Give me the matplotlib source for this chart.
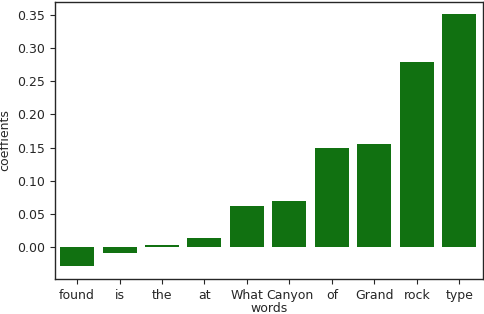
import matplotlib
matplotlib.use('Agg')
import matplotlib.pyplot as plt

words = ['found', 'is', 'the', 'at', 'What', 'Canyon', 'of', 'Grand', 'rock', 'type']
coefs = [-0.0287, -0.009, 0.003, 0.0136, 0.062, 0.069, 0.149, 0.155, 0.279, 0.351]
yticks = [0.00, 0.05, 0.10, 0.15, 0.20, 0.25, 0.30, 0.35]

text_col = '#262626'
plt.rcParams['font.family'] = ['DejaVu Sans']

fig = plt.figure(figsize=(4.84, 3.14), dpi=100)
ax = fig.add_axes([0.1136, 0.1115, 0.8844, 0.8821])

ax.bar(range(len(words)), coefs, width=0.8, color='#117111')
ax.set_xticks(range(len(words)))
ax.set_xticklabels(words)
ax.set_yticks(yticks)
ax.set_yticklabels([f'{v:.2f}' for v in yticks])
ax.set_xlim(-0.52, 9.56)
ax.set_ylim(-0.048, 0.3696)

ax.tick_params(labelsize=9, colors=text_col, length=3.5, width=0.8, direction='out')
for s in ax.spines.values():
    s.set_color(text_col)
    s.set_linewidth(1.0)

# reference crops this label at the bottom edge; keep it just inside
ax.set_xlabel('words', fontsize=9, color=text_col, labelpad=0)
ax.set_ylabel('coeffients', fontsize=9, color=text_col, labelpad=4)

fig.savefig('out.png', dpi=100)
